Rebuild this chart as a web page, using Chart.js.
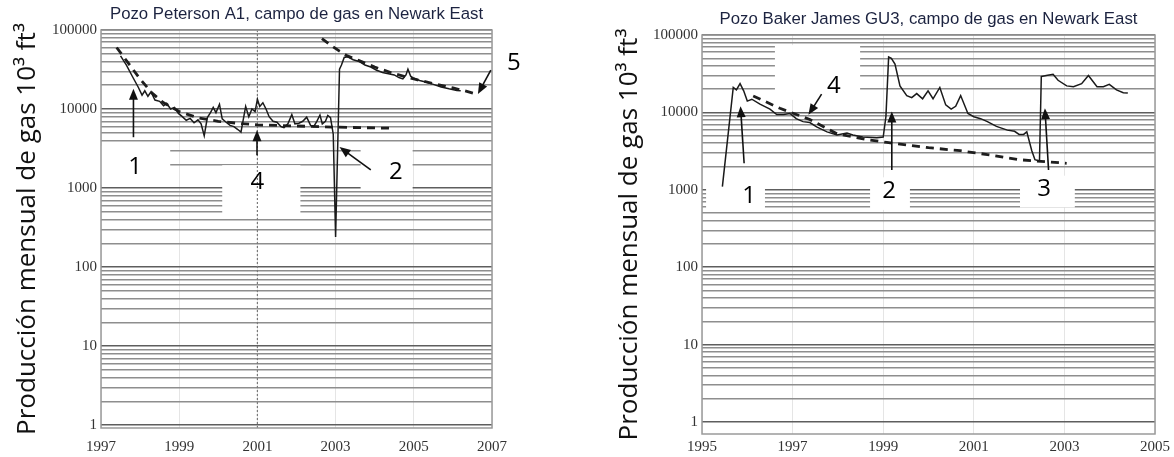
<!DOCTYPE html>
<html>
<head>
<meta charset="utf-8">
<script src="https://cdn.jsdelivr.net/npm/chart.js@4.4.1/dist/chart.umd.min.js"></script>
<style>
  html, body { margin: 0; padding: 0; background: #fff; }
  body { width: 1174px; height: 457px; position: relative; overflow: hidden; }
  .panel { position: absolute; top: 0; height: 457px; }
  #leftPanel { left: 0; width: 560px; }
  #rightPanel { left: 590px; width: 584px; }
</style>
</head>
<body>
<div class="panel" id="leftPanel"><canvas id="leftChart"></canvas></div>
<div class="panel" id="rightPanel"><canvas id="rightChart"></canvas></div>
<script>
// ------------------------------------------------------------
// Datos
// ------------------------------------------------------------
const leftTitle = 'Pozo Peterson A1, campo de gas en Newark East';
const rightTitle = 'Pozo Baker James GU3, campo de gas en Newark East';
const yAxisTitle = 'Producción mensual de gas 10³ ft³';

const leftYearTicks = [1997, 1999, 2001, 2003, 2005, 2007];
const rightYearTicks = [1995, 1997, 1999, 2001, 2003, 2005];

// Pozo Peterson A1 - producción mensual
const leftYears = [
  1997.5, 1997.65, 1997.8, 1997.95, 1998.05, 1998.12, 1998.2, 1998.28, 1998.38, 1998.5,
  1998.6, 1998.68, 1998.78, 1998.88, 1998.98, 1999.08, 1999.18, 1999.28, 1999.38, 1999.48,
  1999.56, 1999.64, 1999.72, 1999.8, 1999.87, 1999.94, 2000.03, 2000.1, 2000.2, 2000.3,
  2000.4, 2000.5, 2000.58, 2000.7, 2000.78, 2000.86, 2000.94, 2001.0, 2001.06, 2001.14,
  2001.22, 2001.3, 2001.4, 2001.5, 2001.6, 2001.68, 2001.78, 2001.88, 2001.96, 2002.06,
  2002.16, 2002.26, 2002.36, 2002.44, 2002.52, 2002.6, 2002.66, 2002.74, 2002.8, 2002.87,
  2002.94, 2003.0, 2003.1, 2003.15, 2003.22, 2003.3, 2003.45, 2003.6, 2003.75, 2003.9,
  2004.05, 2004.2, 2004.35, 2004.5, 2004.62, 2004.72, 2004.8, 2004.85, 2004.92, 2005.0,
  2005.15, 2005.3, 2005.5, 2005.7, 2005.9, 2006.1, 2006.2
];
const leftGas = [
  47000, 36000, 26000, 19000, 15000, 17000, 14500, 16500, 13000, 12500,
  11000, 11800, 10000, 10500, 8800, 8000, 7200, 7600, 6700, 7300,
  6500, 4600, 7800, 9000, 10500, 9000, 11500, 7500, 6800, 6200,
  6000, 5500, 5100, 10800, 8000, 10000, 9300, 13300, 10800, 12000,
  10000, 8000, 7000, 6800, 6000, 5800, 6500, 8500, 6500, 6600,
  7000, 7900, 6200, 6000, 7000, 8400, 6500, 7000, 8300, 7800,
  4800, 240, 32000, 36000, 45000, 46000, 42000, 40000, 36000, 34000,
  31000, 29000, 28000, 27000, 25000, 24000, 27000, 32000, 26000, 24500,
  23000, 22000, 20500, 19000, 18000, 17200, 17000
];
// curvas de declinación (trazos discontinuos)
const leftDeclineYears = [1997.4, 1997.7, 1998.0, 1998.3, 1998.6, 1999.0, 1999.5, 2000.0, 2000.5, 2001.0, 2002.0, 2003.0, 2004.5];
const leftDecline = [60000, 38000, 24000, 16000, 12000, 9300, 7700, 7000, 6600, 6300, 6100, 5900, 5700];
const leftRefracYears = [2002.65, 2002.9, 2003.1, 2003.3, 2003.6, 2004.0, 2004.5, 2005.0, 2005.5, 2006.0, 2006.3, 2006.6];
const leftRefrac = [78000, 63000, 54000, 47000, 41000, 34000, 28000, 24000, 21000, 18500, 17000, 15500];

// Pozo Baker James GU3 - producción mensual
const rightYears = [
  1995.45, 1995.69, 1995.76, 1995.84, 1995.92, 1996.0, 1996.1, 1996.28, 1996.5, 1996.65,
  1996.8, 1996.94, 1997.08, 1997.23, 1997.38, 1997.53, 1997.76, 1997.98, 1998.2, 1998.33,
  1998.55, 1998.86, 1999.0, 1999.06, 1999.12, 1999.18, 1999.26, 1999.37, 1999.52, 1999.63,
  1999.74, 1999.87, 1999.99, 2000.1, 2000.25, 2000.38, 2000.5, 2000.6, 2000.71, 2000.87,
  2001.0, 2001.15, 2001.3, 2001.5, 2001.74, 2001.9, 2002.0, 2002.1, 2002.17, 2002.28,
  2002.35, 2002.45, 2002.49, 2002.6, 2002.75, 2002.86, 2003.05, 2003.2, 2003.38, 2003.53,
  2003.72, 2003.86, 2003.99, 2004.15, 2004.3, 2004.4
];
const rightGas = [
  1100, 21000, 19500, 23500, 19000, 14000, 14800, 12800, 11000, 9400,
  9400, 9700, 8300, 7600, 7400, 6500, 5600, 5100, 5400, 5100,
  4800, 4700, 4800, 8800, 52000, 50000, 42000, 22000, 16500, 15500,
  17500, 15000, 19000, 15000, 21000, 12500, 11000, 12000, 16500, 9700,
  8800, 8300, 7600, 6600, 5900, 5700, 5200, 5200, 5600, 3200,
  2450, 2350, 29000, 30000, 31000, 26000, 22000, 21500, 23500, 30000,
  21500, 21500, 23000, 19500, 18000, 17800
];
const rightDeclineYears = [1996.13, 1996.72, 1997.38, 1997.98, 1998.7, 1999.08, 2000.0, 2000.7, 2001.3, 2002.0, 2003.05];
const rightDecline = [16300, 11300, 8100, 5300, 4400, 4100, 3500, 3200, 2850, 2450, 2200];

// Anotaciones: flechas y números (en unidades de datos)
const leftArrows = [
  { from: [1997.83, 4400], to: [1997.83, 18000] },
  { from: [2000.99, 2600], to: [2000.99, 5400] },
  { from: [2003.9, 1700], to: [2003.1, 3300] },
  { from: [2006.97, 31000], to: [2006.64, 15500] },
];
const leftLabels = [
  { text: '1', x: 1997.87, y: 1860 },
  { text: '4', x: 2001.0, y: 1200 },
  { text: '2', x: 2004.54, y: 1580 },
  { text: '5', x: 2007.56, y: 38000 },
];
const leftMasks = [
  { x0: 1997.0, x1: 1998.77, y0: 1100, y1: 3450 },
  { x0: 2000.1, x1: 2002.1, y0: 460, y1: 1950 },
  { x0: 2003.64, x1: 2004.97, y0: 940, y1: 3050 },
];
const rightArrows = [
  { from: [1995.93, 2200], to: [1995.85, 12000] },
  { from: [1999.19, 1800], to: [1999.19, 10300] },
  { from: [2002.65, 1800], to: [2002.57, 11300] },
  { from: [1997.64, 17200], to: [1997.35, 9300] },
];
const rightLabels = [
  { text: '1', x: 1996.04, y: 830 },
  { text: '4', x: 1997.91, y: 22000 },
  { text: '2', x: 1999.13, y: 970 },
  { text: '3', x: 2002.55, y: 1030 },
];
const rightMasks = [
  { x0: 1995.09, x1: 1996.39, y0: 525, y1: 1350 },
  { x0: 1996.61, x1: 1998.49, y0: 14500, y1: 74000 },
  { x0: 1998.71, x1: 1999.59, y0: 550, y1: 1450 },
  { x0: 2002.02, x1: 2003.23, y0: 590, y1: 1520 },
];

// ------------------------------------------------------------
// Utilidades
// ------------------------------------------------------------
const toPoints = (xs, ys) => xs.map((x, i) => ({ x, y: ys[i] }));
const isPow10 = v => Math.abs(Math.log10(v) - Math.round(Math.log10(v))) < 1e-9;

function logGridTicks(min, max) {
  const ticks = [];
  for (let e = 0; e <= 5; e++) {
    for (let m = 1; m <= 9; m++) {
      const v = m * Math.pow(10, e);
      if (v >= min - 1e-9 && v <= max + 1e-9) ticks.push({ value: v });
    }
  }
  return ticks;
}

function drawArrow(ctx, x0, y0, x1, y1) {
  const ang = Math.atan2(y1 - y0, x1 - x0);
  const head = 11, w = 4.5;
  ctx.beginPath();
  ctx.moveTo(x0, y0);
  ctx.lineTo(x1 - Math.cos(ang) * head * 0.7, y1 - Math.sin(ang) * head * 0.7);
  ctx.stroke();
  ctx.beginPath();
  ctx.moveTo(x1, y1);
  ctx.lineTo(x1 - head * Math.cos(ang) + w * Math.sin(ang), y1 - head * Math.sin(ang) - w * Math.cos(ang));
  ctx.lineTo(x1 - head * Math.cos(ang) - w * Math.sin(ang), y1 - head * Math.sin(ang) + w * Math.cos(ang));
  ctx.closePath();
  ctx.fill();
}

// Plugin: título, máscaras blancas, línea punteada vertical, flechas y números
const marksPlugin = {
  id: 'marks',
  beforeDatasetsDraw(chart, args, opts) {
    const { ctx, chartArea: a, scales: { x, y } } = chart;
    ctx.save();
    ctx.beginPath();
    ctx.rect(a.left, a.top, a.right - a.left, a.bottom - a.top);
    ctx.clip();
    ctx.fillStyle = '#fff';
    (opts.masks || []).forEach(m => {
      const px0 = x.getPixelForValue(m.x0), px1 = x.getPixelForValue(m.x1);
      const py0 = y.getPixelForValue(m.y1), py1 = y.getPixelForValue(m.y0);
      ctx.fillRect(px0, py0, px1 - px0, py1 - py0);
    });
    ctx.strokeStyle = '#7a7a7a';
    ctx.lineWidth = 1.2;
    ctx.setLineDash([2, 2]);
    (opts.vlines || []).forEach(v => {
      const px = x.getPixelForValue(v);
      ctx.beginPath();
      ctx.moveTo(px, a.top);
      ctx.lineTo(px, a.bottom);
      ctx.stroke();
    });
    ctx.restore();
  },
  afterDatasetsDraw(chart, args, opts) {
    const { ctx, chartArea: a, scales: { x, y } } = chart;
    ctx.save();
    // borde del área de trazado
    ctx.strokeStyle = '#9a9a9a';
    ctx.lineWidth = 1.5;
    ctx.strokeRect(a.left, a.top, a.right - a.left, a.bottom - a.top);

    ctx.strokeStyle = '#111';
    ctx.fillStyle = '#111';
    ctx.lineWidth = 1.6;
    (opts.arrows || []).forEach(ar => {
      drawArrow(ctx,
        x.getPixelForValue(ar.from[0]), y.getPixelForValue(ar.from[1]),
        x.getPixelForValue(ar.to[0]), y.getPixelForValue(ar.to[1]));
    });

    ctx.font = '24px "Open Sans", "Noto Sans", sans-serif';
    ctx.textAlign = 'center';
    ctx.textBaseline = 'middle';
    ctx.fillStyle = '#000';
    (opts.labels || []).forEach(l => {
      ctx.fillText(l.text, x.getPixelForValue(l.x), y.getPixelForValue(l.y));
    });

    // título del panel, centrado sobre el área de trazado
    ctx.font = '16.8px "Liberation Sans", Arial, sans-serif';
    ctx.fillStyle = '#1c2340';
    ctx.fillText(opts.title, (a.left + a.right) / 2, opts.titleY);
    ctx.restore();
  }
};

function makeChart(canvasId, cfg) {
  const datasets = [
    {
      data: toPoints(cfg.years, cfg.gas),
      borderColor: '#1a1a1a',
      borderWidth: 1.5,
      pointRadius: 0,
      tension: 0,
    },
  ];
  cfg.declines.forEach(d => {
    datasets.push({
      data: toPoints(d.years, d.values),
      borderColor: '#1e1e1e',
      borderWidth: 2.8,
      borderDash: [8, 6],
      pointRadius: 0,
      tension: 0,
    });
  });

  return new Chart(document.getElementById(canvasId), {
    type: 'line',
    data: { datasets },
    plugins: [marksPlugin],
    options: {
      responsive: true,
      maintainAspectRatio: false,
      animation: false,
      layout: { padding: cfg.padding },
      scales: {
        x: {
          type: 'linear',
          min: cfg.xTicks[0],
          max: cfg.xTicks[cfg.xTicks.length - 1],
          afterBuildTicks: (scale) => { scale.ticks = cfg.xTicks.map(v => ({ value: v })); },
          afterFit: (scale) => { scale.height = cfg.xAxisHeight; },
          ticks: {
            autoSkip: false,
            maxRotation: 0,
            padding: cfg.xTickPadding,
            color: '#333',
            font: { family: '"Liberation Serif", "DejaVu Serif", serif', size: 15 },
            callback: v => String(v),
          },
          grid: {
            color: 'rgba(0,0,0,0.10)',
            lineWidth: 1,
            drawTicks: false,
          },
          border: { display: false },
        },
        y: {
          type: 'logarithmic',
          min: cfg.yMin,
          max: 100000,
          afterBuildTicks: (scale) => { scale.ticks = logGridTicks(scale.min, scale.max); },
          afterFit: (scale) => { scale.width = cfg.yAxisWidth; },
          ticks: {
            autoSkip: false,
            padding: 4,
            color: '#333',
            font: { family: '"Liberation Serif", "DejaVu Serif", serif', size: 15 },
            callback: v => (isPow10(v) ? String(Math.round(v)) : ''),
          },
          grid: {
            color: ctx => (ctx.tick && isPow10(ctx.tick.value) ? '#5e5e5e' : '#8e8e8e'),
            lineWidth: 1.5,
            drawTicks: false,
          },
          border: { display: false },
          title: {
            display: true,
            text: yAxisTitle,
            color: '#111',
            font: { family: '"Open Sans", "Noto Sans", sans-serif', size: 26 },
            padding: { top: cfg.yTitleOffset, bottom: 0 },
          },
        },
      },
      plugins: {
        legend: { display: false },
        tooltip: { enabled: false },
        marks: {
          title: cfg.title,
          titleY: cfg.titleY,
          arrows: cfg.arrows,
          labels: cfg.labels,
          masks: cfg.masks,
          vlines: cfg.vlines,
        },
      },
    },
  });
}

makeChart('leftChart', {
  years: leftYears,
  gas: leftGas,
  declines: [
    { years: leftDeclineYears, values: leftDecline },
    { years: leftRefracYears, values: leftRefrac },
  ],
  xTicks: leftYearTicks,
  yMin: 0.92,
  padding: { top: 30, right: 68, left: 0, bottom: 0 },
  xAxisHeight: 29,
  xTickPadding: 10,
  yAxisWidth: 101,
  yTitleOffset: 12,
  title: leftTitle,
  titleY: 14,
  arrows: leftArrows,
  labels: leftLabels,
  masks: leftMasks,
  vlines: [2001],
});

makeChart('rightChart', {
  years: rightYears,
  gas: rightGas,
  declines: [
    { years: rightDeclineYears, values: rightDecline },
  ],
  xTicks: rightYearTicks,
  yMin: 0.72,
  padding: { top: 35, right: 19, left: 0, bottom: 0 },
  xAxisHeight: 23,
  xTickPadding: 4,
  yAxisWidth: 112,
  yTitleOffset: 24,
  title: rightTitle,
  titleY: 19,
  arrows: rightArrows,
  labels: rightLabels,
  masks: rightMasks,
  vlines: [],
});
</script>
</body>
</html>
